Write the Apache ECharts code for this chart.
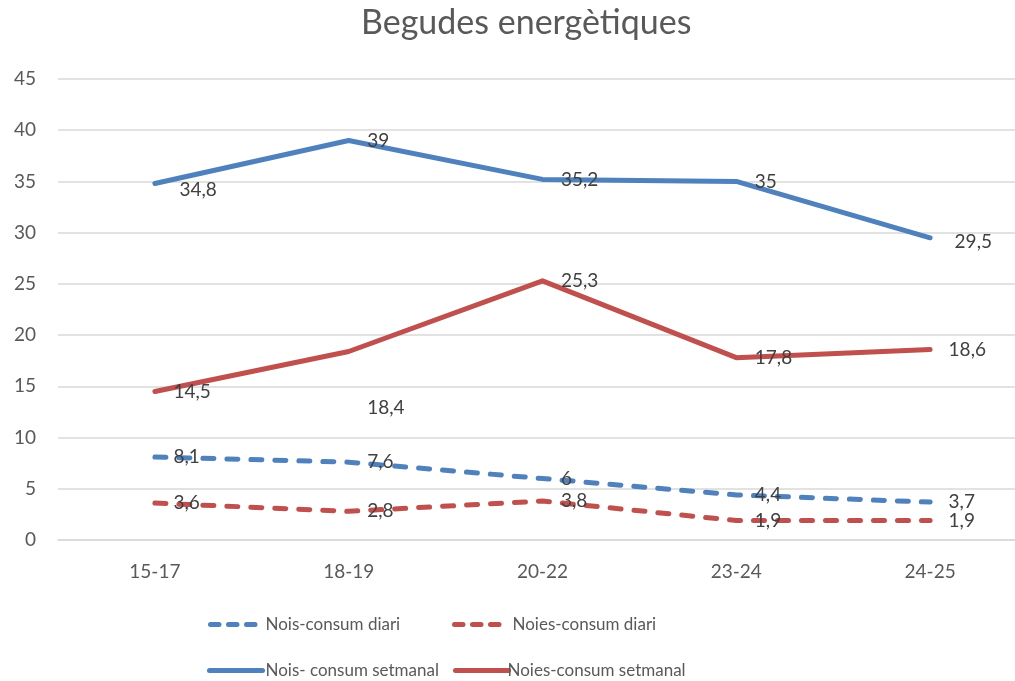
<!DOCTYPE html>
<html>
<head>
<meta charset="utf-8">
<script src="https://cdn.jsdelivr.net/npm/echarts@6/dist/echarts.min.js"></script>
<style>
html,body{margin:0;padding:0;background:#fff;}
#chart{width:1015px;height:681px;}
</style>
</head>
<body>
<div id="chart"></div>
<script>
var titleText = 'Begudes energètiques';
var categories = ['15-17', '18-19', '20-22', '23-24', '24-25'];
var seriesNames = ['Nois-consum diari', 'Noies-consum diari', 'Nois- consum setmanal', 'Noies-consum setmanal'];
var noisDiari = [8.1, 7.6, 6, 4.4, 3.7];
var noiesDiari = [3.6, 2.8, 3.8, 1.9, 1.9];
var noisSetmanal = [34.8, 39, 35.2, 35, 29.5];
var noiesSetmanal = [14.5, 18.4, 25.3, 17.8, 18.6];
var yTicks = [0, 5, 10, 15, 20, 25, 30, 35, 40, 45];

var BLUE = '#4F81BD', RED = '#C0504D';
var FONT = 'Lato';
var FS = 19;

function fmt(p){ return String(p.value).replace('.', ','); }

function mkSeries(name, data, color, dashed, labelOffsets){
  return {
    name: name,
    type: 'line',
    data: data.map(function(v, i){
      var d = {value: v};
      if (labelOffsets && labelOffsets[i]) d.label = {offset: labelOffsets[i]};
      return d;
    }),
    symbol: 'circle',
    symbolSize: 1,
    itemStyle: {color: color},
    lineStyle: {color: color, width: 5, type: dashed ? [11, 13] : 'solid', cap: 'round', join: 'round'},
    label: {show: true, position: 'right', distance: 18, formatter: fmt, color: '#404040', fontSize: FS, fontFamily: FONT},
    emphasis: {disabled: true},
    z: dashed ? 3 : 2
  };
}

var chart = echarts.init(document.getElementById('chart'), null, {renderer: 'canvas'});
function legendItem(name, left, top, dashed, textPad){
  return {
    data: [name], left: left, top: top, orient: 'horizontal',
    itemWidth: dashed ? 47 : 53, itemHeight: 4, itemGap: 0,
    textStyle: {color: '#595959', fontSize: 17, fontFamily: FONT, padding: [0,0,0,textPad]},
    selectedMode: false,
    lineStyle: {width: 5, type: dashed ? [8.5, 9.5] : 'solid', cap: 'round', opacity: 1}
  };
}
chart.setOption({
  animation: false,
  backgroundColor: '#fff',
  title: {text: titleText, left: 356, top: 1, textStyle: {color: '#595959', fontSize: 34, fontWeight: 'normal', fontFamily: FONT}},
  legend: [
    legendItem(seriesNames[0], 203, 611, true, 3),
    legendItem(seriesNames[1], 447, 611, true, 6),
    legendItem(seriesNames[2], 202, 657, false, -2),
    legendItem(seriesNames[3], 448, 657, false, -6)
  ],
  grid: {left: 58, top: 79, right: -12, bottom: 141, containLabel: false, outerBoundsMode: 'none'},
  xAxis: {
    type: 'category', data: categories, boundaryGap: true,
    axisLine: {show: true, lineStyle: {color: '#d9d9d9', width: 1.5}},
    axisTick: {show: false},
    axisLabel: {color: '#595959', fontSize: FS, fontFamily: FONT, margin: 22}
  },
  yAxis: {
    type: 'value', min: yTicks[0], max: yTicks[yTicks.length-1], interval: 5,
    axisLine: {show: false}, axisTick: {show: false},
    axisLabel: {color: '#595959', fontSize: FS, fontFamily: FONT, margin: 22},
    splitLine: {lineStyle: {color: '#d9d9d9', width: 1.5}}
  },
  series: [
    mkSeries(seriesNames[0], noisDiari, BLUE, true),
    mkSeries(seriesNames[1], noiesDiari, RED, true),
    mkSeries(seriesNames[2], noisSetmanal, BLUE, false, [[6, 6], null, null, null, [6, 4]]),
    mkSeries(seriesNames[3], noiesSetmanal, RED, false, [null, [0, 56], null, null, null])
  ]
});
</script>
</body>
</html>
